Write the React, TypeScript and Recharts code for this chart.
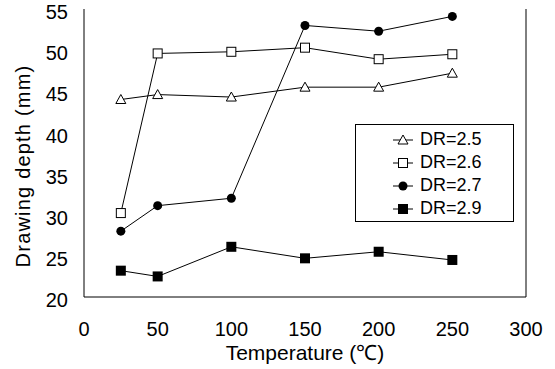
import { LineChart, Line, XAxis, YAxis } from 'recharts';

const temps = [25, 50, 100, 150, 200, 250];
const dr25 = [44.0, 44.6, 44.3, 45.5, 45.5, 47.2];
const dr26 = [30.2, 49.6, 49.8, 50.3, 48.9, 49.5];
const dr27 = [28.0, 31.1, 32.0, 53.0, 52.3, 54.1];
const dr29 = [23.2, 22.5, 26.1, 24.7, 25.5, 24.5];
const xTicks = [0, 50, 100, 150, 200, 250, 300];
const yTicks = [20, 25, 30, 35, 40, 45, 50, 55];

const seriesNames = ['DR=2.5', 'DR=2.6', 'DR=2.7', 'DR=2.9'];
const markers = ['triangle', 'square', 'circle', 'filledSquare'];

const FONT = '"Liberation Sans", Arial, sans-serif';

const chartData = temps.map((t, i) => ({
  t,
  dr25: dr25[i],
  dr26: dr26[i],
  dr27: dr27[i],
  dr29: dr29[i],
}));

const drawMarker = (kind: string, cx: number, cy: number, key?: any) => {
  if (kind === 'triangle') {
    const s = 5;
    return (
      <path
        key={key}
        d={`M${cx},${cy - s} L${cx + s},${cy + s * 0.8} L${cx - s},${cy + s * 0.8} Z`}
        fill="#fff"
        stroke="#000"
        strokeWidth={1}
      />
    );
  }
  if (kind === 'square') {
    return <rect key={key} x={cx - 4.5} y={cy - 4.5} width={9} height={9} fill="#fff" stroke="#000" strokeWidth={1} />;
  }
  if (kind === 'circle') {
    return <circle key={key} cx={cx} cy={cy} r={4.5} fill="#000" />;
  }
  return <rect key={key} x={cx - 5} y={cy - 5} width={10} height={10} fill="#000" />;
};

const makeDot = (kind: string) => (props: any) => drawMarker(kind, props.cx, props.cy, props.key);

// legend is laid over the plot as a plain box, so it does not shrink the chart
const LegendBox = () => (
  <div
    style={{
      position: 'absolute',
      left: 355,
      top: 124,
      border: '1px solid #000',
      background: '#fff',
      width: 157,
      height: 93,
      paddingTop: 3,
    }}
  >
    {seriesNames.map((name, i) => (
      <div key={name} style={{ display: 'flex', alignItems: 'center', height: 23, paddingLeft: 36 }}>
        <svg width={24} height={14} style={{ marginRight: 4 }}>
          <line x1={1} y1={7} x2={21} y2={7} stroke="#000" strokeWidth={1} />
          {drawMarker(markers[i], 11, 7)}
        </svg>
        <span style={{ fontFamily: FONT, fontSize: 18, color: '#000' }}>{name}</span>
      </div>
    ))}
  </div>
);

const YTitle = (props: any) => {
  const vb = props.viewBox;
  const x = vb.x + 23;
  const y = vb.y + vb.height / 2 + 13;
  return (
    <text
      x={x}
      y={y}
      transform={`rotate(-90, ${x}, ${y})`}
      textAnchor="middle"
      dominantBaseline="central"
      fontFamily={FONT}
      fontSize={20}
      letterSpacing={1.2}
      fill="#000"
    >
      Drawing depth (mm)
    </text>
  );
};

export default function App() {
  return (
    <div style={{ position: 'absolute', left: 0, top: 0, width: 555, height: 369, background: '#fff' }}>
      <LineChart width={555} height={369} data={chartData} margin={{ top: 9, right: 28, bottom: 0, left: 0 }}>
        <XAxis
          dataKey="t"
          type="number"
          domain={[0, 300]}
          ticks={xTicks}
          interval={0}
          height={72}
          stroke="#000"
          tickLine={false}
          tickSize={6}
          tickMargin={19}
          tick={{ fill: '#000', fontSize: 20, fontFamily: FONT }}
          label={{
            value: 'Temperature (℃)',
            position: 'insideBottom',
            offset: 9,
            fill: '#000',
            fontSize: 21,
            fontFamily: FONT,
          }}
        />
        <XAxis xAxisId="top" orientation="top" dataKey="t" type="number" domain={[0, 300]} height={0} tick={false} tickLine={false} stroke="#000" />
        <YAxis
          type="number"
          domain={[20, 55]}
          ticks={yTicks}
          interval={0}
          width={84}
          stroke="#000"
          tickLine={false}
          tickSize={6}
          tickMargin={10}
          tick={{ fill: '#000', fontSize: 20, fontFamily: FONT, dy: 3 }}
          label={<YTitle />}
        />
        <YAxis yAxisId="right" orientation="right" type="number" domain={[20, 55]} width={1} tick={false} tickLine={false} stroke="#000" />
        <Line dataKey="dr25" stroke="#000" strokeWidth={1} dot={makeDot('triangle')} isAnimationActive={false} />
        <Line dataKey="dr26" stroke="#000" strokeWidth={1} dot={makeDot('square')} isAnimationActive={false} />
        <Line dataKey="dr27" stroke="#000" strokeWidth={1} dot={makeDot('circle')} isAnimationActive={false} />
        <Line dataKey="dr29" stroke="#000" strokeWidth={1} dot={makeDot('filledSquare')} isAnimationActive={false} />
      </LineChart>
      <LegendBox />
    </div>
  );
}
